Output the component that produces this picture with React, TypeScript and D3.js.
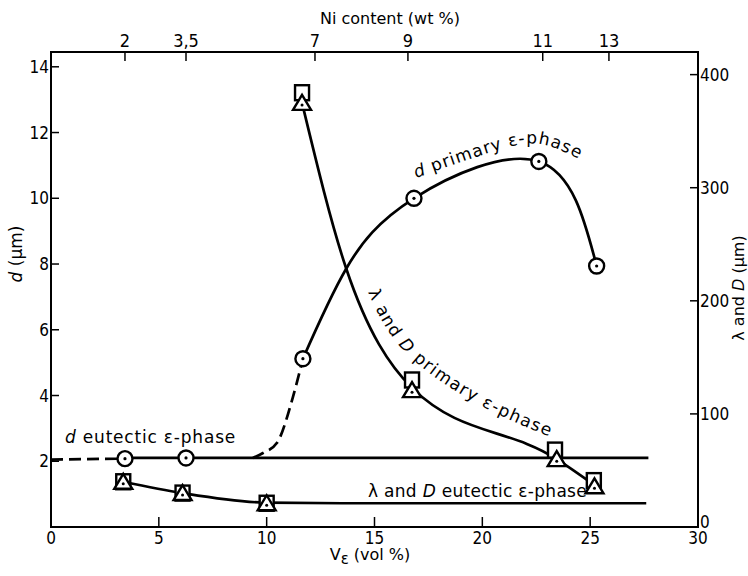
import React from "react";
import * as d3 from "d3";

const W = 748;
const H = 576;

// Axes / ticks
const xTicks = [0, 5, 10, 15, 20, 25, 30];
const yLeftTicks = [2, 4, 6, 8, 10, 12, 14];
const yRightTicks = [0, 100, 200, 300, 400];
const niLabels = ["2", "3,5", "7", "9", "11", "13"];
const niPositions = [3.43, 6.26, 12.24, 16.55, 22.8, 25.87];

// d (left axis, µm) vs V_eps (vol %)
const dPrimaryCircles: [number, number][] = [[11.68, 5.12], [16.83, 10.0], [22.62, 11.12], [25.3, 7.94]];
const dPrimaryCurve: [number, number][] = [[11.68, 5.12], [13.68, 7.85], [16.83, 10.0], [22.62, 11.12], [25.3, 7.94]];
const dPrimaryDashed: [number, number][] = [[9.36, 2.1], [9.83, 2.25], [10.48, 2.56], [11.22, 3.96], [11.68, 5.12]];
const dEutecticCircles: [number, number][] = [[3.43, 2.08], [6.26, 2.1]];
const dEutecticLine: [number, number][] = [[3.43, 2.1], [27.7, 2.1]];
const dEutecticDashed: [number, number][] = [[0, 2.05], [3.43, 2.08]];

// lambda and D (right axis, µm)
const lamPrimarySquares: [number, number][] = [[11.64, 384], [16.74, 130], [23.37, 68], [25.17, 41]];
const lamPrimaryTriangles: [number, number][] = [[11.64, 375], [16.74, 121], [23.45, 60], [25.2, 36]];
const lamPrimaryCurve: [number, number][] = [[11.64, 375], [13.68, 229], [16.74, 123], [23.45, 60], [25.2, 37]];
const lamEutecticSquares: [number, number][] = [[3.35, 40], [6.1, 30], [10.0, 21]];
const lamEutecticTriangles: [number, number][] = [[3.35, 40], [6.1, 30], [10.0, 21]];
const lamEutecticCurve: [number, number][] = [[3.35, 40], [6.1, 30], [10.0, 21.5], [13.5, 21], [27.6, 21]];

// label baselines (left-axis units)
const dPrimaryLabelPath: [number, number][] = [[16.92, 10.62], [20.58, 11.44], [22.9, 11.62], [25.22, 10.92]];
const lamPrimaryLabelPath: [number, number][] = [[14.7, 7.15], [16.41, 5.33], [19.89, 3.71], [23.5, 2.65]];

const FONT = "'DejaVu Sans', sans-serif";
const TICKFONT = "'DejaVu Sans Condensed', 'DejaVu Sans', sans-serif";

export default function App() {
  const left = 51, right = 698, top = 52, bottom = 527;
  const x = d3.scaleLinear().domain([0, 30]).range([left, right]);
  const yL = d3.scaleLinear().domain([0, 14.45]).range([bottom, top]);
  const yR = d3.scaleLinear().domain([0, 420]).range([bottom, top]);

  const lineL = (curve: any) => d3.line<[number, number]>().x(d => x(d[0])).y(d => yL(d[1])).curve(curve);
  const lineR = (curve: any) => d3.line<[number, number]>().x(d => x(d[0])).y(d => yR(d[1])).curve(curve);

  const sw = 2.7;
  const circle = (d: [number, number], i: number, key: string) => (
    <g key={key + i}>
      <circle cx={x(d[0])} cy={yL(d[1])} r={7.5} fill="#fff" stroke="#000" strokeWidth={2.4} />
      <circle cx={x(d[0])} cy={yL(d[1])} r={1.6} fill="#000" />
    </g>
  );
  const square = (d: [number, number], i: number, key: string) => (
    <rect key={key + i} x={x(d[0]) - 7} y={yR(d[1]) - 7.5} width={14} height={15} fill="#fff" stroke="#000" strokeWidth={2.4} />
  );
  const triangle = (d: [number, number], i: number, key: string) => {
    const cx = x(d[0]), cy = yR(d[1]);
    const p = `M${cx},${cy - 8} L${cx + 9},${cy + 7} L${cx - 9},${cy + 7} Z`;
    return (
      <g key={key + i}>
        <path d={p} fill="#fff" stroke="#000" strokeWidth={2.4} strokeLinejoin="miter" />
        <circle cx={cx} cy={cy + 2} r={1.5} fill="#000" />
      </g>
    );
  };

  return (
    <svg width={W} height={H} style={{ position: "absolute", left: 0, top: 0, background: "#fff" }}>
      <defs>
        <path id="dPrimLbl" d={lineL(d3.curveNatural)(dPrimaryLabelPath) || ""} />
        <path id="lamPrimLbl" d={lineL(d3.curveNatural)(lamPrimaryLabelPath) || ""} />
      </defs>

      {/* frame */}
      <rect x={left} y={top} width={right - left} height={bottom - top} fill="none" stroke="#000" strokeWidth={2} />

      {/* bottom ticks */}
      {xTicks.map(t => (
        <g key={"xt" + t}>
          {t > 0 && t < 30 && <line x1={x(t)} x2={x(t)} y1={bottom} y2={bottom - 10} stroke="#000" strokeWidth={1.5} />}
          <text x={x(t)} y={544} textAnchor="middle" fontFamily={TICKFONT} fontSize={17}>{t}</text>
        </g>
      ))}
      {/* left ticks */}
      {yLeftTicks.map(t => (
        <g key={"yl" + t}>
          <line x1={left} x2={left + 8} y1={yL(t)} y2={yL(t)} stroke="#000" strokeWidth={1.5} />
          <text x={49} y={yL(t)} dy="0.36em" textAnchor="end" fontFamily={TICKFONT} fontSize={17}>{t}</text>
        </g>
      ))}
      {/* right ticks */}
      {yRightTicks.map(t => (
        <g key={"yr" + t}>
          {t > 0 && <line x1={right - 8} x2={right} y1={yR(t)} y2={yR(t)} stroke="#000" strokeWidth={1.5} />}
          <text x={700} y={yR(t) - (t === 0 ? 5 : 0)} dy="0.36em" textAnchor="start" fontFamily={TICKFONT} fontSize={17}>{t}</text>
        </g>
      ))}
      {/* top ticks (Ni content) */}
      {niLabels.map((lab, i) => (
        <g key={"ni" + i}>
          <line x1={x(niPositions[i])} x2={x(niPositions[i])} y1={top} y2={top + 9} stroke="#000" strokeWidth={1.5} />
          <text x={x(niPositions[i])} y={47} textAnchor="middle" fontFamily={TICKFONT} fontSize={18}>{lab}</text>
        </g>
      ))}

      {/* axis titles */}
      <text x={390} y={24} textAnchor="middle" fontFamily={FONT} fontSize={16}>Ni content (wt %)</text>
      <text x={370} y={560} textAnchor="middle" fontFamily={FONT} fontSize={16}>
        V<tspan dy={4} fontSize={15}>ε</tspan><tspan dy={-4}> (vol %)</tspan>
      </text>
      <text transform={`translate(22,254) rotate(-90)`} textAnchor="middle" fontFamily={FONT} fontSize={17}>
        <tspan fontStyle="italic">d</tspan> (μm)
      </text>
      <text transform={`translate(744,288) rotate(-90)`} textAnchor="middle" fontFamily={FONT} fontSize={16}>
        λ and <tspan fontStyle="italic">D</tspan> (μm)
      </text>

      {/* curves */}
      <path d={lineL(d3.curveLinear)(dEutecticDashed) || ""} fill="none" stroke="#000" strokeWidth={sw} strokeDasharray="12,6" />
      <path d={lineL(d3.curveLinear)(dEutecticLine) || ""} fill="none" stroke="#000" strokeWidth={sw} />
      <path d={lineL(d3.curveMonotoneX)(dPrimaryDashed) || ""} fill="none" stroke="#000" strokeWidth={sw} strokeDasharray="12,6" />
      <path d={lineL(d3.curveNatural)(dPrimaryCurve) || ""} fill="none" stroke="#000" strokeWidth={sw} />
      <path d={lineR(d3.curveMonotoneX)(lamPrimaryCurve) || ""} fill="none" stroke="#000" strokeWidth={sw} />
      <path d={lineR(d3.curveMonotoneX)(lamEutecticCurve) || ""} fill="none" stroke="#000" strokeWidth={sw} />

      {/* markers */}
      {dEutecticCircles.map((d, i) => circle(d, i, "dec"))}
      {dPrimaryCircles.map((d, i) => circle(d, i, "dpc"))}
      {lamPrimarySquares.map((d, i) => square(d, i, "lps"))}
      {lamEutecticSquares.map((d, i) => square(d, i, "les"))}
      {lamPrimaryTriangles.map((d, i) => triangle(d, i, "lpt"))}
      {lamEutecticTriangles.map((d, i) => triangle(d, i, "let"))}

      {/* series labels */}
      <text x={65} y={443} fontFamily={FONT} fontSize={17} letterSpacing={0.8}>
        <tspan fontStyle="italic">d</tspan> eutectic ε-phase
      </text>
      <text x={368} y={497} fontFamily={FONT} fontSize={17} letterSpacing={0.3}>
        λ and <tspan fontStyle="italic">D</tspan> eutectic ε-phase
      </text>
      <text fontFamily={FONT} fontSize={17} letterSpacing={1.0}>
        <textPath href="#dPrimLbl"><tspan fontStyle="italic">d</tspan> primary  ε-phase</textPath>
      </text>
      <text fontFamily={FONT} fontSize={17} letterSpacing={1.3}>
        <textPath href="#lamPrimLbl">λ and <tspan fontStyle="italic">D</tspan> primary ε-phase</textPath>
      </text>
    </svg>
  );
}
